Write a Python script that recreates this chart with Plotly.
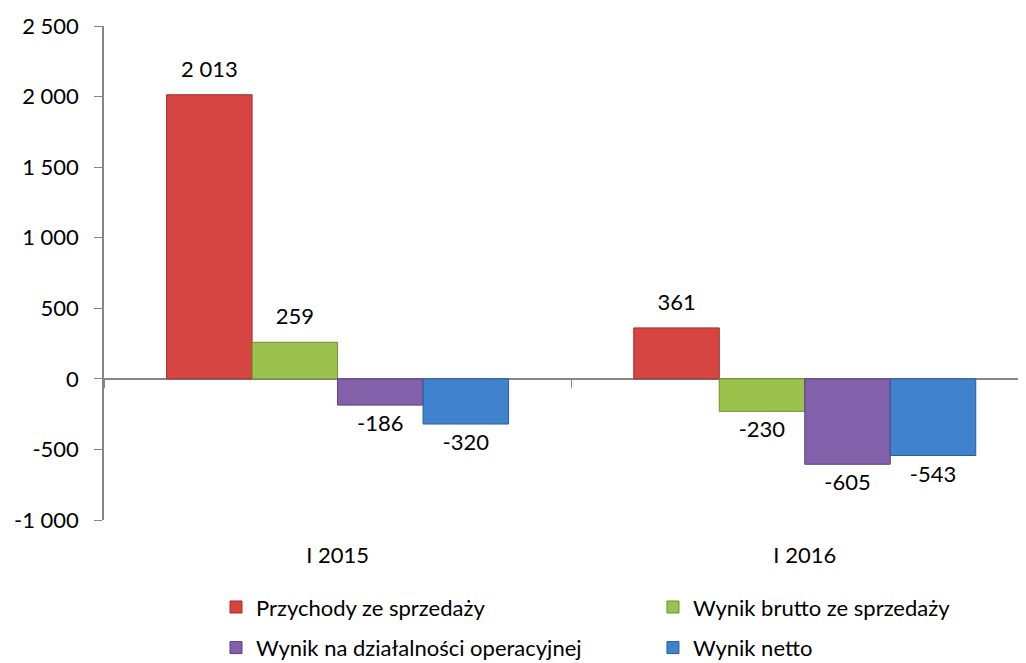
import plotly.graph_objects as go

categories = ["I 2015", "I 2016"]
series_names = ["Przychody ze sprzedaży", "Wynik brutto ze sprzedaży",
                "Wynik na działalności operacyjnej", "Wynik netto"]
przychody = [2013, 361]
brutto = [259, -230]
operacyjny = [-186, -605]
netto = [-320, -543]
series_values = [przychody, brutto, operacyjny, netto]
colors = ["#D64541", "#9BC24C", "#8360AA", "#4182CE"]
edge_colors = ["#9E2E2B", "#6F8E31", "#5B3F7D", "#2C5C98"]
legend_ids = ["legend", "legend2", "legend", "legend2"]
y_ticks = [-1000, -500, 0, 500, 1000, 1500, 2000, 2500]


def fmt(v):
    s = f"{abs(v):,}".replace(",", " ")
    return ("-" if v < 0 else "") + s


def label(v):
    core = f"<span style='font-size:22px'>{fmt(v)}</span>"
    return core + "<br> " if v >= 0 else " <br>" + core


fig = go.Figure()
for i, (name, vals, c, ec, lg) in enumerate(zip(series_names, series_values, colors,
                                                edge_colors, legend_ids)):
    fig.add_trace(go.Bar(
        name=name, x=categories, y=vals,
        marker=dict(color=c, line=dict(color=ec, width=1)),
        text=[label(v) for v in vals], textposition="outside", cliponaxis=False,
        textfont=dict(size=10, color="#000000"),
        legend=lg, legendgroup=f"g{i}",
    ))

# helper axis drawn at y=0 for the category boundary tick
fig.add_trace(go.Scatter(x=categories, y=[None, None], xaxis="x2", yaxis="y",
                         showlegend=False, hoverinfo="skip"))

legend_common = dict(orientation="v", y=-0.134, yanchor="top", font=dict(size=22),
                     traceorder="grouped", tracegroupgap=9, bgcolor="rgba(0,0,0,0)")
fig.update_layout(
    width=1018, height=655,
    barmode="group", bargap=0.268, bargroupgap=0,
    paper_bgcolor="white", plot_bgcolor="white",
    font=dict(family="Lato, 'Open Sans', sans-serif", size=22, color="#000000"),
    margin=dict(l=96, r=4, t=18, b=143, autoexpand=False),
    showlegend=True,
    legend=dict(x=0.122, xanchor="left", **legend_common),
    legend2=dict(x=0.598, xanchor="left", **legend_common),
    xaxis=dict(range=[-0.5, 1.465], showgrid=False, showline=False, ticks="",
               tickfont=dict(size=22), ticklabelstandoff=20),
    xaxis2=dict(overlaying="x", anchor="free", position=1000 / 3500,
                matches="x", showticklabels=False, tickson="boundaries",
                ticks="outside", ticklen=8, tickcolor="#868686",
                showline=False, showgrid=False),
    yaxis=dict(range=[-1000, 2500], tickvals=y_ticks,
               ticktext=[fmt(v) for v in y_ticks],
               showgrid=False, showline=True, linecolor="#868686", linewidth=1.5,
               ticks="outside", ticklen=8, tickcolor="#868686",
               zeroline=True, zerolinecolor="#868686", zerolinewidth=1.5,
               tickfont=dict(size=22), ticklabelstandoff=11),
)

fig.write_html("out.html")
